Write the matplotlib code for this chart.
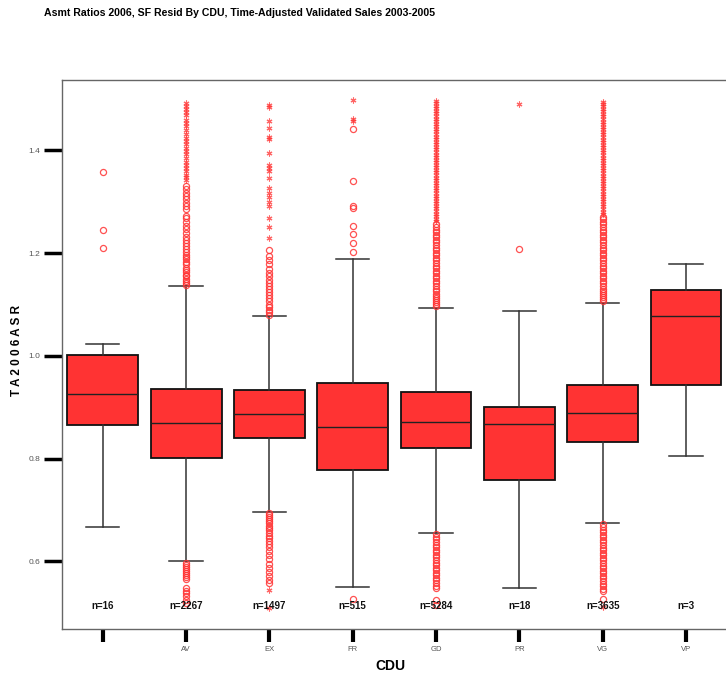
import matplotlib
matplotlib.use("Agg")
import matplotlib.pyplot as plt

plt.rcParams['font.family'] = ['Liberation Sans', 'DejaVu Sans']

categories = ["", "AV", "EX", "FR", "GD", "PR", "VG", "VP"]
counts = [16, 2267, 1497, 515, 5284, 18, 3635, 3]
q1 = [0.866, 0.802, 0.840, 0.779, 0.820, 0.759, 0.833, 0.943]
median = [0.926, 0.869, 0.887, 0.861, 0.872, 0.867, 0.888, 1.078]
q3 = [1.002, 0.935, 0.934, 0.947, 0.930, 0.901, 0.943, 1.128]
whisk_lo = [0.668, 0.601, 0.696, 0.551, 0.656, 0.548, 0.674, 0.805]
whisk_hi = [1.023, 1.136, 1.077, 1.189, 1.094, 1.088, 1.103, 1.179]

# mild outliers (circles)
out_circle = [
    [1.357, 1.245, 1.211],
    [1.138, 1.142, 1.146, 1.150, 1.155, 1.158, 1.163, 1.168, 1.172, 1.178, 1.183, 1.188,
     1.192, 1.197, 1.203, 1.209, 1.214, 1.220, 1.226, 1.232, 1.240, 1.247, 1.253, 1.260,
     1.268, 1.273, 1.285, 1.292, 1.298, 1.305, 1.312, 1.318, 1.324, 1.330,
     0.598, 0.594, 0.590, 0.586, 0.582, 0.578, 0.574, 0.570, 0.566, 0.548, 0.543, 0.538,
     0.533, 0.525, 0.520],
    [1.080, 1.085, 1.090, 1.095, 1.100, 1.106, 1.112, 1.118, 1.124, 1.130, 1.136, 1.142,
     1.148, 1.155, 1.162, 1.170, 1.178, 1.186, 1.195, 1.206,
     0.694, 0.690, 0.686, 0.682, 0.678, 0.674, 0.670, 0.666, 0.661, 0.656, 0.650, 0.645,
     0.640, 0.634, 0.628, 0.620, 0.612, 0.604, 0.596, 0.588, 0.580, 0.572, 0.564, 0.559],
    [1.202, 1.220, 1.238, 1.252, 1.288, 1.292, 1.341, 1.441, 0.527],
    [1.097, 1.101, 1.105, 1.109, 1.113, 1.117, 1.121, 1.126, 1.131, 1.136, 1.141, 1.146,
     1.151, 1.156, 1.161, 1.166, 1.171, 1.176, 1.181, 1.186, 1.191, 1.196, 1.201, 1.206,
     1.211, 1.216, 1.221, 1.226, 1.231, 1.236, 1.241, 1.246, 1.251, 1.256,
     0.653, 0.648, 0.643, 0.638, 0.633, 0.628, 0.623, 0.618, 0.613, 0.608, 0.603, 0.598,
     0.593, 0.588, 0.583, 0.578, 0.573, 0.568, 0.563, 0.558, 0.553, 0.548, 0.525, 0.515],
    [1.208],
    [1.106, 1.110, 1.114, 1.118, 1.122, 1.126, 1.131, 1.136, 1.141, 1.146, 1.151, 1.156,
     1.161, 1.166, 1.171, 1.176, 1.181, 1.186, 1.191, 1.196, 1.201, 1.206, 1.211, 1.216,
     1.221, 1.226, 1.231, 1.236, 1.241, 1.246, 1.251, 1.256, 1.261, 1.266, 1.271,
     0.672, 0.667, 0.662, 0.657, 0.652, 0.647, 0.642, 0.637, 0.632, 0.627, 0.622, 0.617,
     0.612, 0.607, 0.602, 0.597, 0.592, 0.587, 0.582, 0.577, 0.572, 0.567, 0.562, 0.557,
     0.552, 0.547, 0.543, 0.527],
    [],
]

# extreme outliers (asterisks)
out_star = [
    [],
    [1.342, 1.348, 1.353, 1.360, 1.366, 1.372, 1.378, 1.385, 1.393, 1.398, 1.405, 1.412,
     1.418, 1.425, 1.432, 1.440, 1.447, 1.453, 1.460, 1.468, 1.474, 1.480, 1.487, 1.492],
    [1.489, 1.484, 1.457, 1.444, 1.427, 1.422, 1.395, 1.372, 1.365, 1.359, 1.346, 1.327,
     1.318, 1.309, 1.300, 1.291, 1.269, 1.251, 1.230, 0.545, 0.510],
    [1.458, 1.462, 1.498],
    [1.262, 1.267, 1.272, 1.277, 1.282, 1.287, 1.292, 1.297, 1.302, 1.307, 1.312, 1.317,
     1.322, 1.327, 1.332, 1.337, 1.342, 1.347, 1.352, 1.357, 1.362, 1.367, 1.372, 1.377,
     1.382, 1.387, 1.392, 1.397, 1.402, 1.407, 1.412, 1.417, 1.422, 1.427, 1.432, 1.437,
     1.442, 1.447, 1.452, 1.457, 1.462, 1.467, 1.472, 1.477, 1.482, 1.487, 1.492, 1.497],
    [1.491],
    [1.276, 1.281, 1.286, 1.291, 1.296, 1.301, 1.306, 1.311, 1.316, 1.321, 1.326, 1.331,
     1.336, 1.341, 1.346, 1.351, 1.356, 1.361, 1.366, 1.371, 1.376, 1.381, 1.386, 1.391,
     1.396, 1.401, 1.406, 1.411, 1.416, 1.421, 1.426, 1.431, 1.436, 1.441, 1.446, 1.451,
     1.456, 1.461, 1.466, 1.471, 1.476, 1.481, 1.486, 1.491, 1.495, 0.512],
    [],
]

ytick_vals = [0.6, 0.8, 1.0, 1.2, 1.4]
ytick_labels = ["0.6", "0.8", "1.0", "1.2", "1.4"]

RED = "#FF3333"

fig = plt.figure(figsize=(7.26, 6.75), dpi=100)
ax = fig.add_axes([62 / 726, 46 / 675, 665.6 / 726, 549 / 675])

positions = list(range(1, len(categories) + 1))
stats = []
for i in range(len(categories)):
    stats.append(dict(med=median[i], q1=q1[i], q3=q3[i],
                      whislo=whisk_lo[i], whishi=whisk_hi[i], fliers=[]))

ax.bxp(stats, positions=positions, widths=0.85, capwidths=0.4,
       showfliers=False, patch_artist=True,
       boxprops=dict(facecolor=RED, edgecolor="#111111", linewidth=1.3),
       medianprops=dict(color="#222222", linewidth=1.0),
       whiskerprops=dict(color="#333333", linewidth=1.1),
       capprops=dict(color="#333333", linewidth=1.1))

for i, p in enumerate(positions):
    if out_circle[i]:
        ax.plot([p] * len(out_circle[i]), out_circle[i], linestyle="none",
                marker="o", markersize=4.4, markerfacecolor="none",
                markeredgecolor=RED, markeredgewidth=0.9, alpha=0.85, zorder=3)
    if out_star[i]:
        ax.plot([p] * len(out_star[i]), out_star[i], linestyle="none",
                marker=(6, 2, 0), markersize=4.2, markeredgecolor=RED,
                markeredgewidth=0.8, alpha=0.75, zorder=3)
    ax.text(p, 0.513, f"n={counts[i]}", ha="center", va="center",
            fontsize=7, fontweight="bold", color="#111111", zorder=4)

ax.set_xlim(0.51, 8.5)
ax.set_ylim(0.4686, 1.537)
ax.set_xticks(positions)
ax.set_xticklabels(categories, fontsize=5.5, color="#555555")
ax.set_yticks(ytick_vals)
ax.set_yticklabels(ytick_labels, fontsize=6, color="#555555")
ax.tick_params(axis="y", direction="out", length=13, width=2.5, color="black", pad=2.5)
ax.tick_params(axis="x", direction="out", length=9, width=3, color="black", pad=3)

for side in ["left", "bottom", "top"]:
    ax.spines[side].set_color("#666666")
    ax.spines[side].set_linewidth(1.0)
ax.spines["right"].set_visible(False)

fig.text(44 / 726, 1 - 13 / 675,
         "Asmt Ratios 2006, SF Resid By CDU, Time-Adjusted Validated Sales 2003-2005",
         fontsize=7.6, fontweight="bold", ha="left", va="center")
fig.text(17 / 726, 1 - 350 / 675, "T A 2 0 0 6 A S R", rotation=90,
         fontsize=8.5, fontweight="bold", ha="center", va="center")
fig.text(390 / 726, 1 - 666 / 675, "CDU", fontsize=10, fontweight="bold",
         ha="center", va="center")

fig.savefig("out.png", dpi=100)
